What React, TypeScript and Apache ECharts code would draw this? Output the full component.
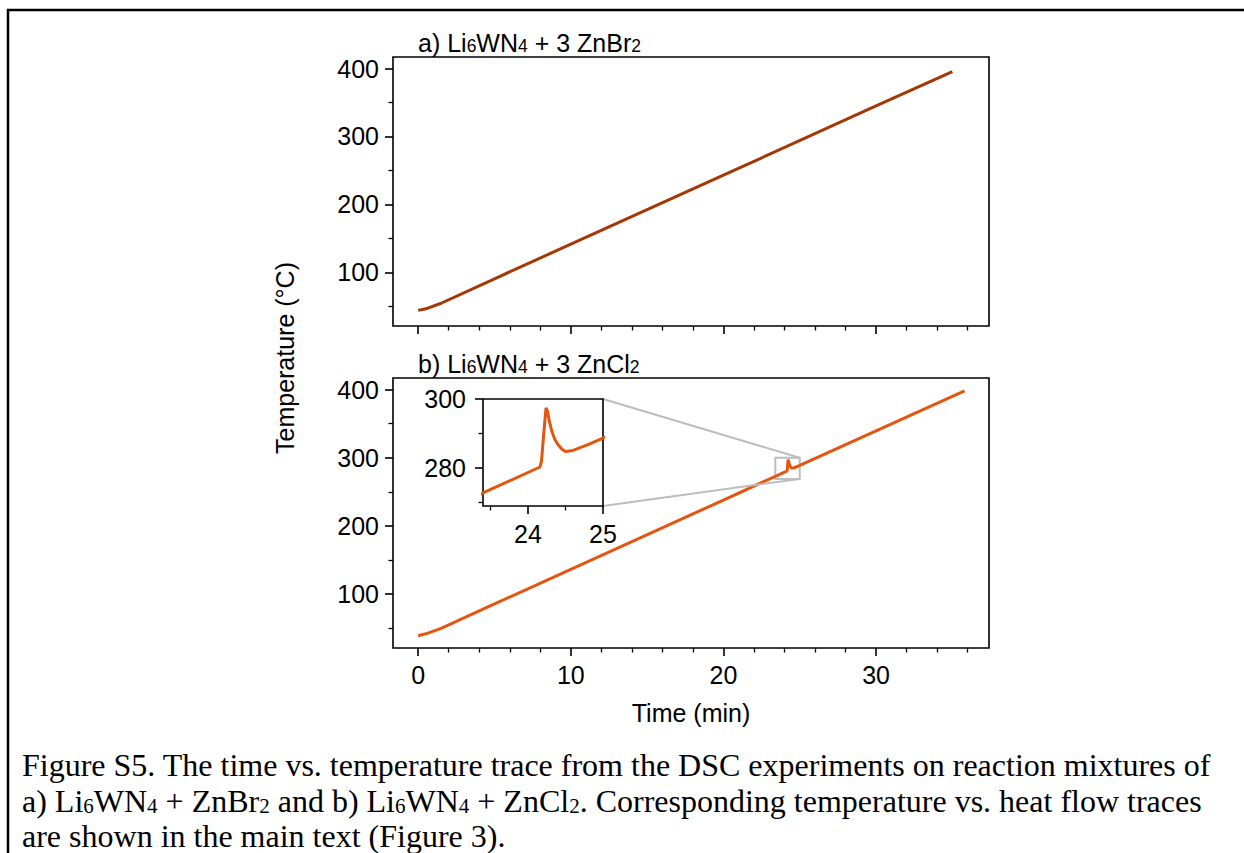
import React, { useEffect, useRef } from "react";
import * as echarts from "echarts";

// ---- data ----
const timeA = [0, 0.5, 1.5, 5, 10, 20, 30, 35.0];
const tempA = [44, 46.3, 54.5, 90.5, 141.5, 243, 345, 395.5];

const timeB = [0, 0.5, 1.5, 5, 10, 20, 23.4, 24.16, 24.18, 24.21, 24.24, 24.26, 24.28, 24.32, 24.36, 24.4, 24.45, 24.5, 24.6, 24.8, 25, 30, 35.8];
const tempB = [39, 41.8, 49.8, 85.6, 136.4, 238, 272.8, 280.3, 282, 290, 297.4, 296.5, 294, 290.5, 288.2, 286.8, 285.5, 284.8, 285.1, 286.8, 288.7, 339.3, 398];

const xMajor = [0, 10, 20, 30];
const xMinor = [2, 4, 6, 8, 12, 14, 16, 18, 22, 24, 26, 28, 32, 34, 36];
const yMajor = [100, 200, 300, 400];
const yMinor = [50, 150, 250, 350];
const insetXMajor = [24, 25];
const insetXMinor = [23.5, 24.5];
const insetYMajor = [280, 300];
const insetYMinor = [270, 290];

const xRange = [-1.65, 37.4];
const yRange = [21, 417];
const insetX = [23.4, 25];
const insetY = [269, 300];

const SANS = "'Liberation Sans', Arial, Helvetica, sans-serif";
const SERIF = "'Liberation Serif', 'Times New Roman', serif";
const COLOR_A = "#a63603";
const COLOR_B = "#e6550d";
const GRAY = "#bdbdbd";

function axisPair(
  dim: "x" | "y",
  gridIndex: number,
  range: number[],
  major: number[],
  minor: number[],
  showLabels: boolean,
  margin = 14
) {
  const base = {
    type: "value",
    gridIndex,
    min: range[0],
    max: range[1],
    position: dim === "x" ? "bottom" : "left",
    axisLine: { show: false, onZero: false },
    splitLine: { show: false },
    minorTick: { show: false },
    minorSplitLine: { show: false },
  };
  return [
    {
      ...base,
      axisTick: { show: true, inside: false, length: 8, lineStyle: { color: "#000", width: 1.6 }, customValues: major },
      axisLabel: {
        show: showLabels,
        customValues: major,
        fontSize: 25,
        color: "#000",
        fontFamily: SANS,
        margin,
      },
    },
    {
      ...base,
      axisTick: { show: true, inside: false, length: 4.5, lineStyle: { color: "#000", width: 1.3 }, customValues: minor },
      axisLabel: { show: false },
    },
  ];
}

export default function App() {
  const ref = useRef<HTMLDivElement>(null);

  useEffect(() => {
    if (!ref.current) return;
    const chart = echarts.init(ref.current, undefined, { renderer: "svg" });

    const gridStyle = { show: true, borderColor: "#000", borderWidth: 1.6, backgroundColor: "#fff" };

    const option: any = {
      animation: false,
      backgroundColor: "#fff",
      grid: [
        { left: 393, top: 57, width: 596, height: 269, ...gridStyle },
        { left: 393, top: 378, width: 596, height: 270, ...gridStyle },
        { left: 483, top: 399, width: 120, height: 107, ...gridStyle, z: 5 },
      ],
      xAxis: [
        ...axisPair("x", 0, xRange, xMajor, xMinor, false),
        ...axisPair("x", 1, xRange, xMajor, xMinor, true).map((a, i) =>
          i === 0
            ? { ...a, name: "Time (min)", nameLocation: "middle", nameGap: 52, nameTextStyle: { fontSize: 25, color: "#000", fontFamily: SANS } }
            : a
        ),
        ...axisPair("x", 2, insetX, insetXMajor, insetXMinor, true, 15).map((a) => ({ ...a, z: 6 })),
      ],
      yAxis: [
        ...axisPair("y", 0, yRange, yMajor, yMinor, true),
        ...axisPair("y", 1, yRange, yMajor, yMinor, true),
        ...axisPair("y", 2, insetY, insetYMajor, insetYMinor, true, 17).map((a) => ({ ...a, z: 6 })),
      ],
      series: [
        {
          type: "line",
          xAxisIndex: 0,
          yAxisIndex: 0,
          data: timeA.map((t, i) => [t, tempA[i]]),
          showSymbol: false,
          symbol: "none",
          lineStyle: { color: COLOR_A, width: 3 },
          z: 3,
        },
        {
          type: "line",
          xAxisIndex: 2,
          yAxisIndex: 2,
          data: timeB.map((t, i) => [t, tempB[i]]),
          showSymbol: false,
          symbol: "none",
          lineStyle: { color: COLOR_B, width: 3 },
          z: 3,
          markArea: {
            silent: true,
            itemStyle: { color: "rgba(0,0,0,0)", borderColor: GRAY, borderWidth: 2 },
            data: [[{ coord: [insetX[0], insetY[1]] }, { coord: [insetX[1], insetY[0]] }]],
          },
        },
        {
          type: "line",
          xAxisIndex: 4,
          yAxisIndex: 4,
          data: timeB.map((t, i) => [t, tempB[i]]),
          showSymbol: false,
          symbol: "none",
          clip: true,
          lineStyle: { color: COLOR_B, width: 3 },
          z: 7,
        },
      ],
    };
    chart.setOption(option);

    const insetTR = chart.convertToPixel({ seriesIndex: 2 }, [insetX[1], insetY[1]]) as number[];
    const insetBR = chart.convertToPixel({ seriesIndex: 2 }, [insetX[1], insetY[0]]) as number[];
    const rectTR = chart.convertToPixel({ seriesIndex: 1 }, [insetX[1], insetY[1]]) as number[];
    const rectBR = chart.convertToPixel({ seriesIndex: 1 }, [insetX[1], insetY[0]]) as number[];

    const titleRich = {
      n: { fontSize: 25, fontFamily: SANS, fill: "#000", lineHeight: 28, verticalAlign: "bottom" },
      s: { fontSize: 17.5, fontFamily: SANS, fill: "#000", lineHeight: 12, verticalAlign: "bottom" },
    };
    const capRich = {
      n: { fontSize: 32, fontFamily: SERIF, fill: "#000", lineHeight: 33, verticalAlign: "bottom" },
      s: { fontSize: 21, fontFamily: SERIF, fill: "#000", lineHeight: 16, verticalAlign: "bottom" },
    };

    chart.setOption({
      graphic: [
        {
          type: "rect",
          shape: { x: 8, y: 10, width: 1400, height: 1000 },
          style: { fill: "none", stroke: "#000", lineWidth: 2.5 },
          z: 100,
          silent: true,
        },
        {
          type: "line",
          shape: { x1: insetTR[0], y1: insetTR[1], x2: rectTR[0], y2: rectTR[1] },
          style: { stroke: GRAY, lineWidth: 2 },
          z: 4,
          silent: true,
        },
        {
          type: "line",
          shape: { x1: insetBR[0], y1: insetBR[1], x2: rectBR[0], y2: rectBR[1] },
          style: { stroke: GRAY, lineWidth: 2 },
          z: 4,
          silent: true,
        },
        {
          type: "text",
          x: 418,
          y: 41,
          style: {
            text: "{n|a) Li}{s|6}{n|WN}{s|4}{n| + 3 ZnBr}{s|2}",
            rich: titleRich,
            align: "left",
            verticalAlign: "middle",
          },
          z: 50,
        },
        {
          type: "text",
          x: 418,
          y: 362,
          style: {
            text: "{n|b) Li}{s|6}{n|WN}{s|4}{n| + 3 ZnCl}{s|2}",
            rich: titleRich,
            align: "left",
            verticalAlign: "middle",
          },
          z: 50,
        },
        {
          type: "text",
          x: 285,
          y: 358,
          rotation: Math.PI / 2,
          style: {
            text: "Temperature (°C)",
            font: `25px ${SANS}`,
            fill: "#000",
            align: "center",
            verticalAlign: "middle",
          },
          z: 50,
        },
        {
          type: "text",
          x: 22,
          y: 765,
          style: {
            text: "Figure S5. The time vs. temperature trace from the DSC experiments on reaction mixtures of",
            font: `32px ${SERIF}`,
            fill: "#000",
            align: "left",
            verticalAlign: "middle",
          },
          z: 50,
        },
        {
          type: "text",
          x: 22,
          y: 800,
          style: {
            text: "{n|a) Li}{s|6}{n|WN}{s|4}{n| + ZnBr}{s|2}{n| and b) Li}{s|6}{n|WN}{s|4}{n| + ZnCl}{s|2}{n|. Corresponding temperature vs. heat flow traces}",
            rich: capRich,
            align: "left",
            verticalAlign: "middle",
          },
          z: 50,
        },
        {
          type: "text",
          x: 22,
          y: 836,
          style: {
            text: "are shown in the main text (Figure 3).",
            font: `32px ${SERIF}`,
            fill: "#000",
            align: "left",
            verticalAlign: "middle",
          },
          z: 50,
        },
      ],
    });

    return () => chart.dispose();
  }, []);

  return (
    <div
      ref={ref}
      style={{ position: "fixed", left: 0, top: 0, width: 1244, height: 853, background: "#fff" }}
    />
  );
}
